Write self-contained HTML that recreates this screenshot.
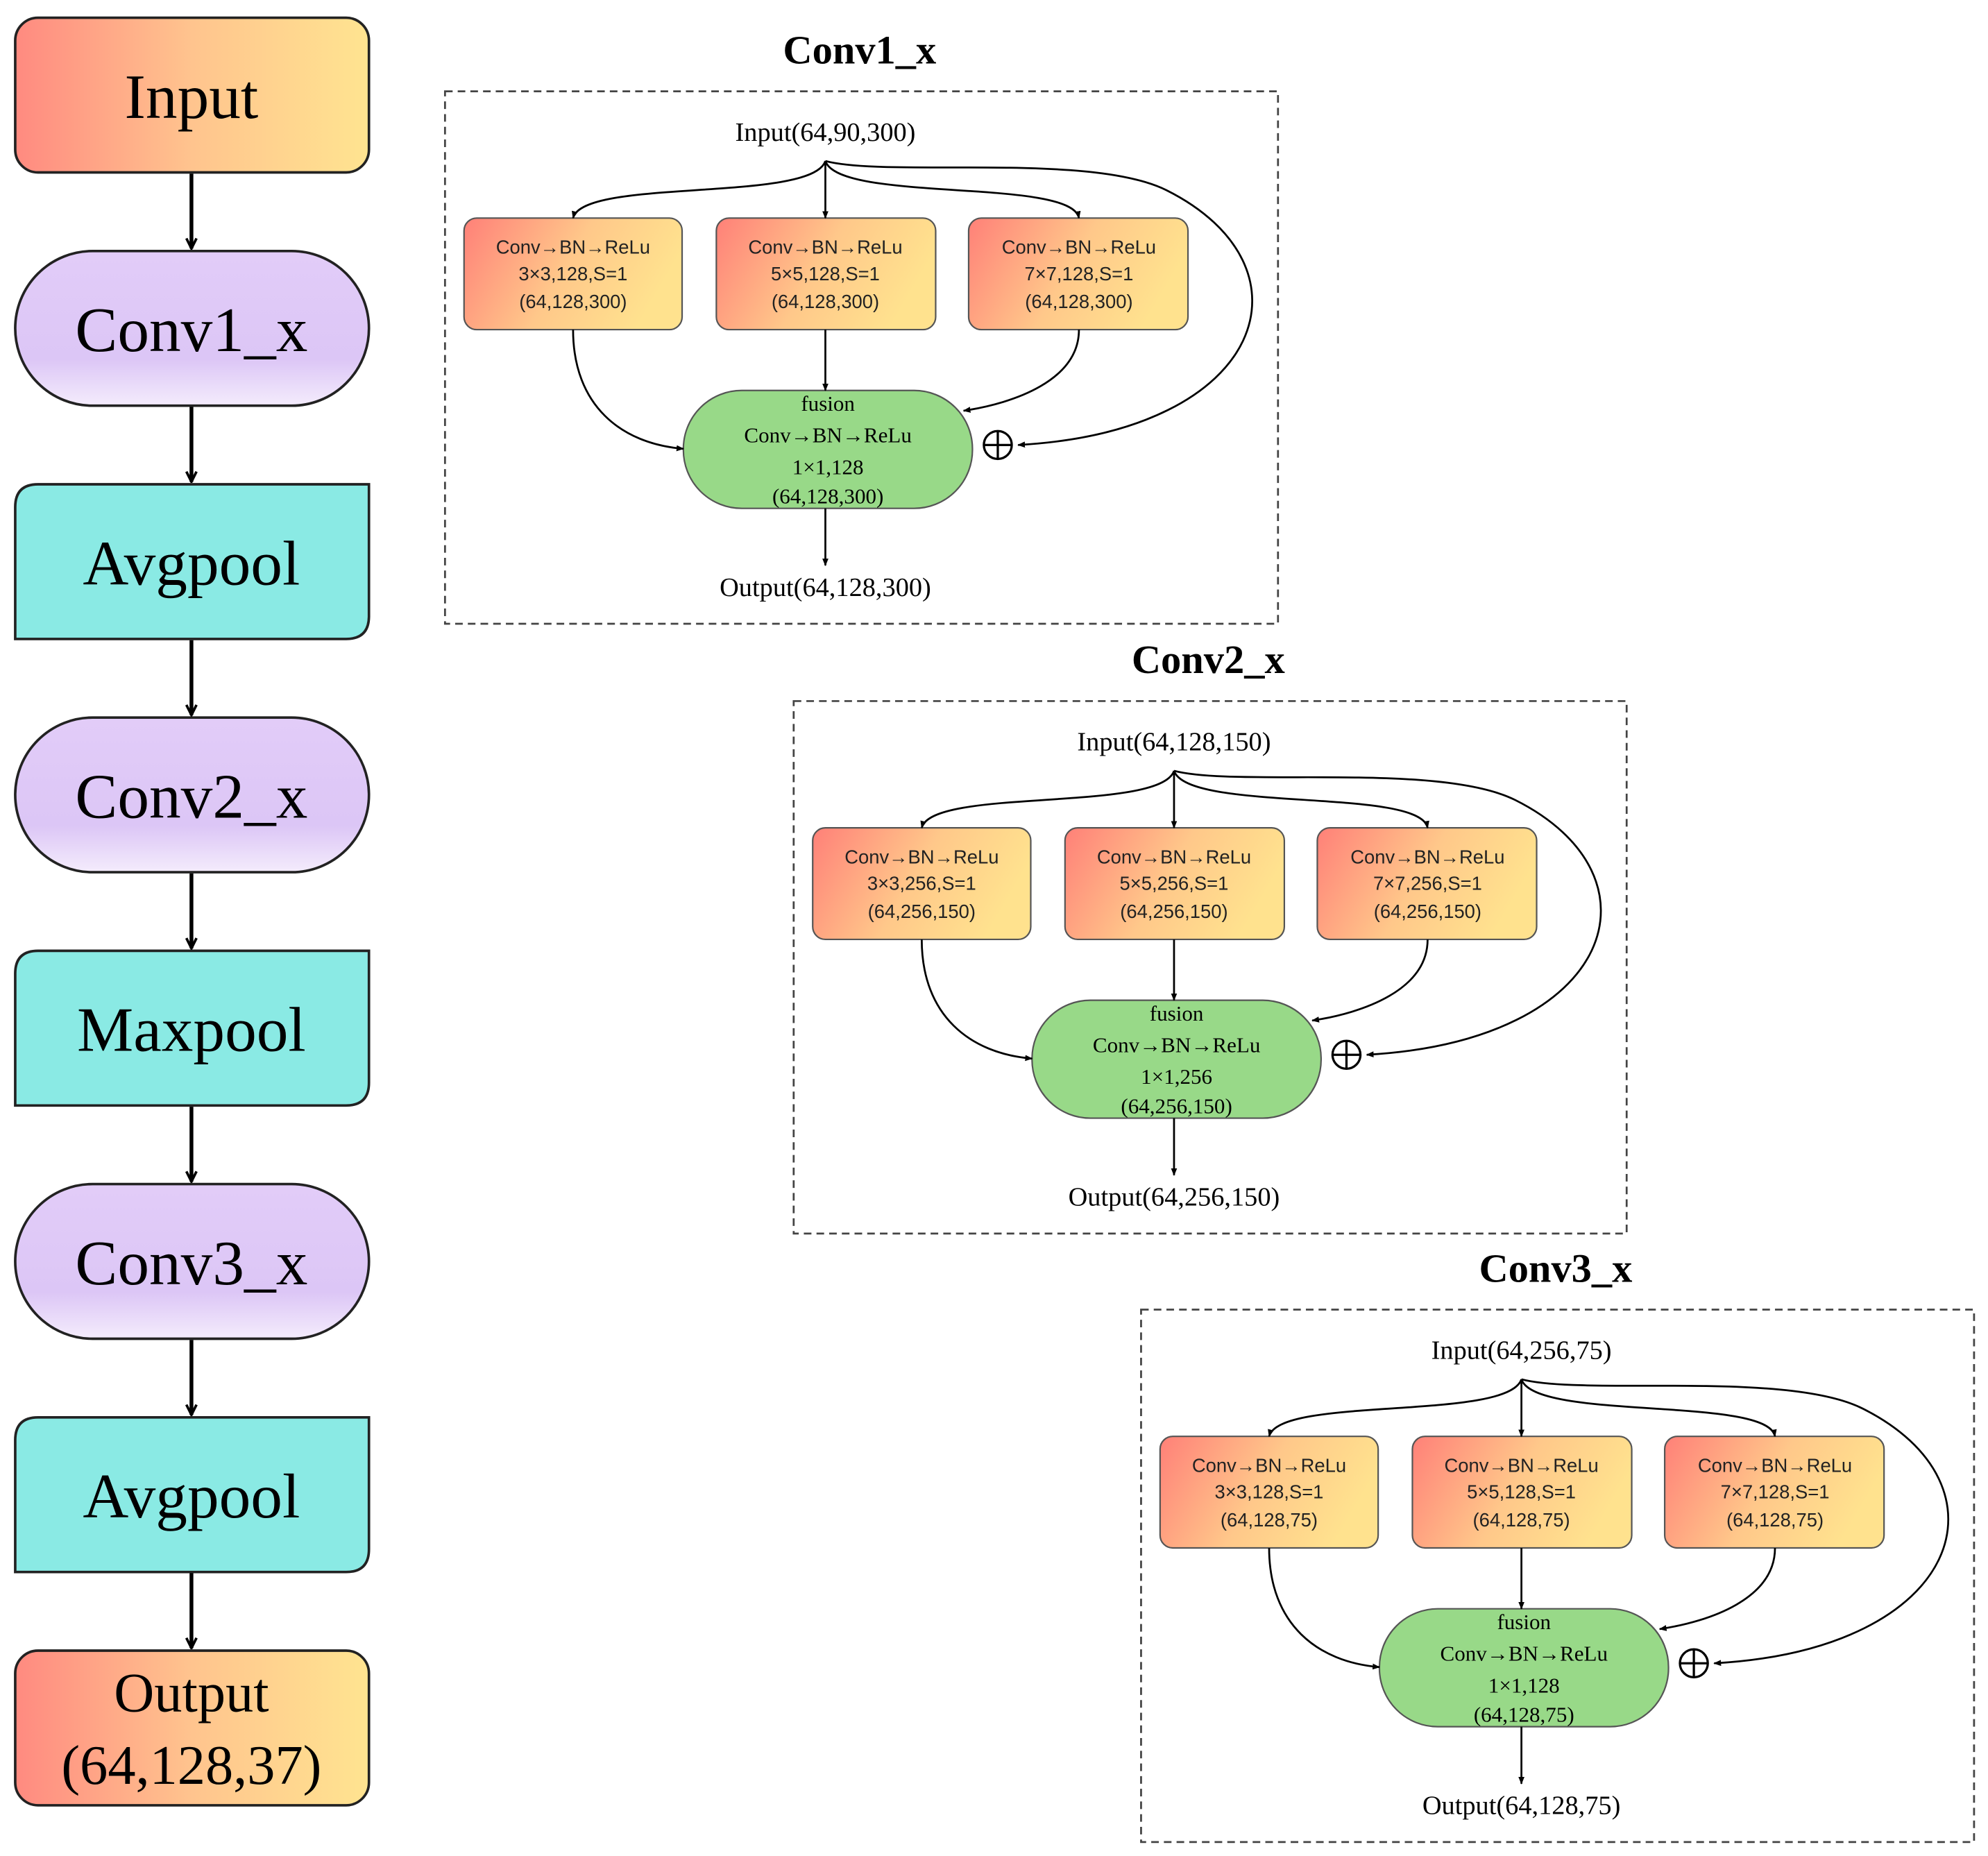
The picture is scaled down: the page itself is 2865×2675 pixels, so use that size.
<!DOCTYPE html>
<html><head><meta charset="utf-8"><style>html,body{margin:0;padding:0;background:#fff}svg{display:block}</style></head>
<body>
<svg width="2865" height="2675" viewBox="0 0 1568 1464" xmlns="http://www.w3.org/2000/svg" font-family="'Liberation Serif',serif">
<defs>
<linearGradient id="og" x1="0" y1="0" x2="1" y2="0"><stop offset="0" stop-color="#ff8a80"/><stop offset="0.5" stop-color="#ffc48e"/><stop offset="1" stop-color="#ffe490"/></linearGradient>
<linearGradient id="og2" x1="0" y1="0" x2="1" y2="0.3"><stop offset="0" stop-color="#ff8078"/><stop offset="0.55" stop-color="#ffc88a"/><stop offset="1" stop-color="#ffe28e"/></linearGradient>
<linearGradient id="pg" x1="0" y1="0" x2="0" y2="1"><stop offset="0" stop-color="#e2ccf8"/><stop offset="0.7" stop-color="#dcc6f6"/><stop offset="1" stop-color="#f4ecfc"/></linearGradient>
<marker id="ab" viewBox="0 0 10 10" refX="9" refY="5" markerWidth="10" markerHeight="10" markerUnits="userSpaceOnUse" orient="auto"><path d="M1,1 L9,5 L1,9" fill="none" stroke="#000" stroke-width="2"/></marker>
<marker id="as" viewBox="0 0 10 10" refX="9" refY="5" markerWidth="6" markerHeight="6" markerUnits="userSpaceOnUse" orient="auto"><path d="M0,1 L10,5 L0,9z" fill="#000"/></marker>
</defs>

<g stroke="#222" stroke-width="2">
<rect x="12" y="14" width="279" height="122" rx="18" fill="url(#og)"/>
<rect x="12" y="198" width="279" height="122" rx="61" fill="url(#pg)"/>
<path d="M30,382 H291 V486 Q291,504 273,504 H12 V400 Q12,382 30,382Z" fill="#8aeae4"/>
<rect x="12" y="566" width="279" height="122" rx="61" fill="url(#pg)"/>
<path d="M30,750 H291 V854 Q291,872 273,872 H12 V768 Q12,750 30,750Z" fill="#8aeae4"/>
<rect x="12" y="934" width="279" height="122" rx="61" fill="url(#pg)"/>
<path d="M30,1118 H291 V1222 Q291,1240 273,1240 H12 V1136 Q12,1118 30,1118Z" fill="#8aeae4"/>
<rect x="12" y="1302" width="279" height="122" rx="18" fill="url(#og)"/>
</g>
<g stroke="#000" stroke-width="3" marker-end="url(#ab)">
<line x1="151" y1="137" x2="151" y2="196"/>
<line x1="151" y1="321" x2="151" y2="380"/>
<line x1="151" y1="505" x2="151" y2="564"/>
<line x1="151" y1="689" x2="151" y2="748"/>
<line x1="151" y1="873" x2="151" y2="932"/>
<line x1="151" y1="1057" x2="151" y2="1116"/>
<line x1="151" y1="1241" x2="151" y2="1300"/>
</g>
<g font-size="50" text-anchor="middle" fill="#000">
<text x="151" y="93">Input</text>
<text x="151" y="277">Conv1_x</text>
<text x="151" y="461">Avgpool</text>
<text x="151" y="645">Conv2_x</text>
<text x="151" y="829">Maxpool</text>
<text x="151" y="1013">Conv3_x</text>
<text x="151" y="1197">Avgpool</text>
<text x="151" y="1350" font-size="44">Output</text>
<text x="151" y="1407" font-size="44">(64,128,37)</text>
</g>

<g id="p1">
<rect x="351" y="72" width="657" height="420" fill="none" stroke="#444" stroke-width="1.5" stroke-dasharray="6,4"/>
<g fill="url(#og2)" stroke="#555" stroke-width="1.2">
<rect x="366" y="172" width="172" height="88" rx="10"/>
<rect x="565" y="172" width="173" height="88" rx="10"/>
<rect x="764" y="172" width="173" height="88" rx="10"/>
</g>
<rect x="539" y="308" width="228" height="93" rx="46" fill="#98d988" stroke="#555" stroke-width="1.2"/>
<g fill="none" stroke="#000" stroke-width="1.5" marker-end="url(#as)">
<path d="M651,127 C640,160 460,140 452,172"/>
<path d="M651,127 V172"/>
<path d="M651,127 C662,160 845,140 851,172"/>
<path d="M651,127 C700,140 860,120 920,150 C1040,210 1000,340 803,351"/>
<path d="M452,260 C452,320 490,350 539,354"/>
<path d="M651,260 V308"/>
<path d="M851,260 C851,300 800,318 760,324"/>
<path d="M651,401 V446"/>
</g>
<circle cx="787" cy="351" r="11" fill="none" stroke="#000" stroke-width="1.8"/>
<path d="M776,351 H798 M787,340 V362" stroke="#000" stroke-width="1.8"/>
</g>
</svg>
<svg width="2865" height="2675" viewBox="0 0 1568 1464" xmlns="http://www.w3.org/2000/svg" style="position:absolute;left:0;top:0" font-family="'Liberation Serif',serif">
<g>
<text x="678" y="50" font-size="32" font-weight="bold" text-anchor="middle">Conv1_x</text>
<text x="651" y="111" font-size="21" text-anchor="middle">Input(64,90,300)</text>
<text x="651" y="470" font-size="21" text-anchor="middle">Output(64,128,300)</text>
<g font-family="'Liberation Sans',sans-serif" font-size="15" text-anchor="middle" fill="#222">
<text x="452" y="200">Conv→BN→ReLu</text><text x="452" y="221">3×3,128,S=1</text><text x="452" y="243">(64,128,300)</text>
<text x="651" y="200">Conv→BN→ReLu</text><text x="651" y="221">5×5,128,S=1</text><text x="651" y="243">(64,128,300)</text>
<text x="851" y="200">Conv→BN→ReLu</text><text x="851" y="221">7×7,128,S=1</text><text x="851" y="243">(64,128,300)</text>
</g>
<g font-size="17" text-anchor="middle">
<text x="653" y="324">fusion</text><text x="653" y="349">Conv→BN→ReLu</text><text x="653" y="374">1×1,128</text><text x="653" y="397">(64,128,300)</text>
</g>
</g>
<g transform="translate(275,481)">
<use href="#p1"/>
<text x="678" y="50" font-size="32" font-weight="bold" text-anchor="middle">Conv2_x</text>
<text x="651" y="111" font-size="21" text-anchor="middle">Input(64,128,150)</text>
<text x="651" y="470" font-size="21" text-anchor="middle">Output(64,256,150)</text>
<g font-family="'Liberation Sans',sans-serif" font-size="15" text-anchor="middle" fill="#222">
<text x="452" y="200">Conv→BN→ReLu</text><text x="452" y="221">3×3,256,S=1</text><text x="452" y="243">(64,256,150)</text>
<text x="651" y="200">Conv→BN→ReLu</text><text x="651" y="221">5×5,256,S=1</text><text x="651" y="243">(64,256,150)</text>
<text x="851" y="200">Conv→BN→ReLu</text><text x="851" y="221">7×7,256,S=1</text><text x="851" y="243">(64,256,150)</text>
</g>
<g font-size="17" text-anchor="middle">
<text x="653" y="324">fusion</text><text x="653" y="349">Conv→BN→ReLu</text><text x="653" y="374">1×1,256</text><text x="653" y="397">(64,256,150)</text>
</g>
</g>
<g transform="translate(549,961)">
<use href="#p1"/>
<text x="678" y="50" font-size="32" font-weight="bold" text-anchor="middle">Conv3_x</text>
<text x="651" y="111" font-size="21" text-anchor="middle">Input(64,256,75)</text>
<text x="651" y="470" font-size="21" text-anchor="middle">Output(64,128,75)</text>
<g font-family="'Liberation Sans',sans-serif" font-size="15" text-anchor="middle" fill="#222">
<text x="452" y="200">Conv→BN→ReLu</text><text x="452" y="221">3×3,128,S=1</text><text x="452" y="243">(64,128,75)</text>
<text x="651" y="200">Conv→BN→ReLu</text><text x="651" y="221">5×5,128,S=1</text><text x="651" y="243">(64,128,75)</text>
<text x="851" y="200">Conv→BN→ReLu</text><text x="851" y="221">7×7,128,S=1</text><text x="851" y="243">(64,128,75)</text>
</g>
<g font-size="17" text-anchor="middle">
<text x="653" y="324">fusion</text><text x="653" y="349">Conv→BN→ReLu</text><text x="653" y="374">1×1,128</text><text x="653" y="397">(64,128,75)</text>
</g>
</g>
</svg>
</body></html>
